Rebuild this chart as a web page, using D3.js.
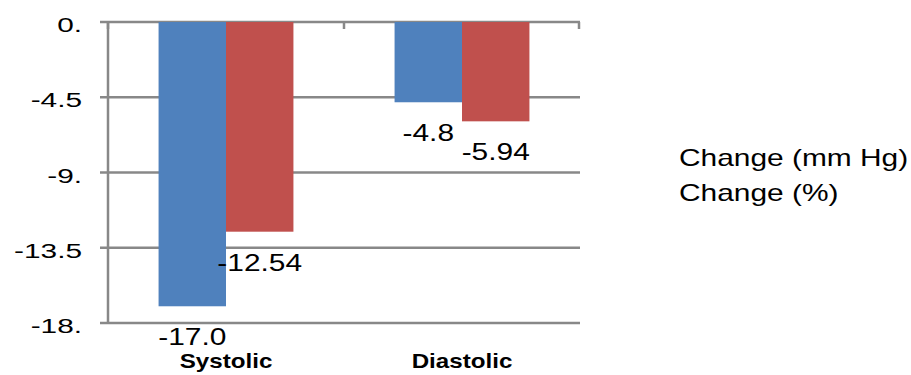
<!DOCTYPE html>
<html>
<head>
<meta charset="utf-8">
<script src="https://cdn.jsdelivr.net/npm/d3@7"></script>
<style>
  html, body { margin: 0; padding: 0; background: #fff; }
  svg text { font-family: "Liberation Sans", Arial, sans-serif; fill: #000; }
</style>
</head>
<body>
<svg id="chart" width="911" height="375"></svg>
<script>
// Blood pressure change by measure
const categories = ["Systolic", "Diastolic"];
const seriesNames = ["Change (mm Hg)", "Change (%)"];
const changeMmHg = [-17.0, -4.8];
const changePct = [-12.54, -5.94];
const valueLabels = [["-17.0", "-4.8"], ["-12.54", "-5.94"]];
const tickValues = [0, -4.5, -9, -13.5, -18];
const tickLabels = ["0.", "-4.5", "-9.", "-13.5", "-18."];
const colors = ["#4F81BD", "#C0504D"];

const svg = d3.select("#chart");
const plot = { left: 108, right: 580, top: 22, bottom: 323 };
const gridColor = "#888888";

const y = d3.scaleLinear().domain([-18, 0]).range([plot.bottom, plot.top]);
const x0 = d3.scaleBand().domain(categories).range([plot.left, plot.right]).paddingInner(0).paddingOuter(0);
const x1 = d3.scaleBand().domain(seriesNames).range([0, x0.bandwidth()]).paddingInner(0).paddingOuter(0.75);

// text drawn with a horizontal stretch
function stretchedText(g, px, py, str, anchor, size, sx, weight) {
  return g.append("text")
    .attr("transform", `translate(${px},${py}) scale(${sx},1)`)
    .attr("text-anchor", anchor)
    .attr("font-size", size)
    .attr("font-weight", weight || "normal")
    .text(str);
}

// horizontal gridlines with left tick marks
svg.append("g").selectAll("line").data(tickValues).join("line")
  .attr("x1", plot.left - 8).attr("x2", plot.right)
  .attr("y1", d => y(d)).attr("y2", d => y(d))
  .attr("stroke", gridColor).attr("stroke-width", 2.5);

// y tick labels
tickValues.forEach((v, i) => {
  stretchedText(svg, 82, y(v) + 10, tickLabels[i], "end", 21, 1.42);
});

// bars
const series = [changeMmHg, changePct];
const bars = svg.append("g");
series.forEach((vals, s) => {
  bars.selectAll(null).data(vals).join("rect")
    .attr("x", (d, i) => x0(categories[i]) + x1(seriesNames[s]))
    .attr("width", x1.bandwidth())
    .attr("y", y(0))
    .attr("height", d => y(d) - y(0))
    .attr("fill", colors[s]);
});

// vertical axis line
svg.append("line")
  .attr("x1", plot.left).attr("x2", plot.left)
  .attr("y1", plot.top - 1).attr("y2", plot.bottom)
  .attr("stroke", gridColor).attr("stroke-width", 2.5);

// category axis along the zero line, ticks pointing down
const catTicks = [plot.left, x0(categories[1]), plot.right - 1];
svg.append("g").selectAll("line").data(catTicks).join("line")
  .attr("x1", d => d).attr("x2", d => d)
  .attr("y1", y(0)).attr("y2", y(0) + 7)
  .attr("stroke", gridColor).attr("stroke-width", 2.5);

// value labels under each bar
series.forEach((vals, s) => {
  vals.forEach((v, i) => {
    const cx = x0(categories[i]) + x1(seriesNames[s]) + x1.bandwidth() / 2;
    stretchedText(svg, cx, y(v) + 39, valueLabels[s][i], "middle", 23, 1.3);
  });
});

// category labels
categories.forEach(c => {
  stretchedText(svg, x0(c) + x0.bandwidth() / 2, 368, c, "middle", 19.5, 1.24, "bold");
});

// legend
seriesNames.forEach((n, i) => {
  stretchedText(svg, 679, 166 + i * 35, n, "start", 23, 1.3);
});
</script>
</body>
</html>
